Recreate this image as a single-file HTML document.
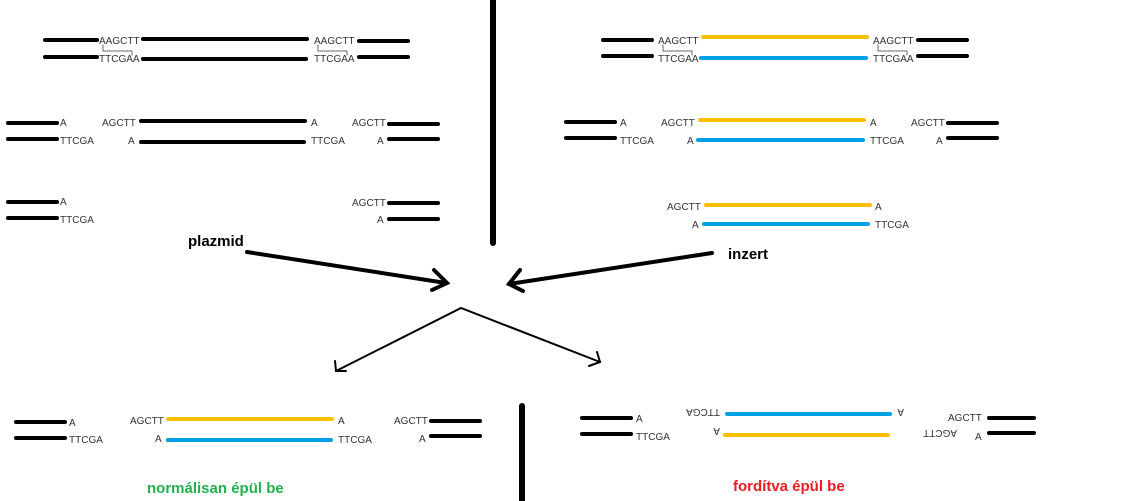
<!DOCTYPE html>
<html><head><meta charset="utf-8"><style>
html,body{margin:0;padding:0;background:#fff;}
svg{display:block;}
text{font-family:"Liberation Sans",Arial,sans-serif;font-size:10px;fill:#333;}
.b{font-weight:bold;font-size:15px;fill:#000;}
</style></head><body>
<svg width="1128" height="501" viewBox="0 0 1128 501">
<g stroke-linecap="round" fill="none">
<!-- top-left row1 -->
<g stroke="#000" stroke-width="4">
<line x1="45" y1="40" x2="97" y2="40"/><line x1="45" y1="57" x2="97" y2="57"/>
<line x1="143" y1="39" x2="307" y2="39"/><line x1="143" y1="59" x2="306" y2="59"/>
<line x1="359" y1="41" x2="408" y2="41"/><line x1="359" y1="57" x2="408" y2="57"/>
<!-- row2 -->
<line x1="8" y1="123" x2="57" y2="123"/><line x1="8" y1="139" x2="57" y2="139"/>
<line x1="141" y1="121" x2="305" y2="121"/><line x1="141" y1="142" x2="304" y2="142"/>
<line x1="389" y1="124" x2="438" y2="124"/><line x1="389" y1="139" x2="438" y2="139"/>
<!-- row3 -->
<line x1="8" y1="202" x2="57" y2="202"/><line x1="8" y1="218" x2="57" y2="218"/>
<line x1="389" y1="203" x2="438" y2="203"/><line x1="389" y1="219" x2="438" y2="219"/>
<!-- right row1 -->
<line x1="603" y1="40" x2="652" y2="40"/><line x1="603" y1="56" x2="652" y2="56"/>
<line x1="918" y1="40" x2="967" y2="40"/><line x1="918" y1="56" x2="967" y2="56"/>
<line x1="566" y1="122" x2="615" y2="122"/><line x1="566" y1="138" x2="615" y2="138"/>
<line x1="948" y1="123" x2="997" y2="123"/><line x1="948" y1="138" x2="997" y2="138"/>
<!-- bottom -->
<line x1="16" y1="422" x2="65" y2="422"/><line x1="16" y1="438" x2="65" y2="438"/>
<line x1="431" y1="421" x2="480" y2="421"/><line x1="431" y1="436" x2="480" y2="436"/>
<line x1="582" y1="418" x2="631" y2="418"/><line x1="582" y1="434" x2="631" y2="434"/>
<line x1="989" y1="418" x2="1034" y2="418"/><line x1="989" y1="433" x2="1034" y2="433"/>
</g>
<g stroke="#ffc000" stroke-width="4">
<line x1="703" y1="37" x2="867" y2="37"/><line x1="700" y1="120" x2="864" y2="120"/>
<line x1="706" y1="205" x2="870" y2="205"/><line x1="168" y1="419" x2="332" y2="419"/>
<line x1="725" y1="435" x2="888" y2="435"/>
</g>
<g stroke="#00a0e6" stroke-width="4">
<line x1="701" y1="58" x2="866" y2="58"/><line x1="698" y1="140" x2="863" y2="140"/>
<line x1="704" y1="224" x2="868" y2="224"/><line x1="168" y1="440" x2="331" y2="440"/>
<line x1="727" y1="414" x2="890" y2="414"/>
</g>
<!-- dotted brackets -->
<g stroke="#555" stroke-width="1" stroke-dasharray="1,1">
<path d="M103 45 V51 H132 V56"/><path d="M318 45 V51 H347 V56"/>
<path d="M663 45 V51 H692 V56"/><path d="M878 45 V51 H907 V56"/>
</g>
<!-- vertical bars -->
<g stroke="#000" stroke-width="6">
<line x1="493" y1="0" x2="493" y2="243"/>
<line x1="522" y1="406" x2="522" y2="501"/>
</g>
<!-- arrows -->
<g stroke="#000" stroke-width="4">
<line x1="247" y1="252" x2="446" y2="283"/>
<polyline points="434,270 447,283 432,290"/>
<line x1="712" y1="253" x2="509" y2="284"/>
<polyline points="520,270 509,284 523,291"/>
</g>
<g stroke="#000" stroke-width="2">
<polyline points="336,371 461,308 600,362"/>
<polyline points="335,361 336,371 346,371"/>
<polyline points="597,352 600,362 589,366"/>
</g>
</g>
<!-- texts -->
<text x="99" y="44">AAGCTT</text><text x="99" y="62">TTCGAA</text>
<text x="314" y="44">AAGCTT</text><text x="314" y="62">TTCGAA</text>
<text x="60" y="126">A</text><text x="102" y="126">AGCTT</text>
<text x="60" y="144">TTCGA</text><text x="128" y="144">A</text>
<text x="311" y="126">A</text><text x="311" y="144">TTCGA</text>
<text x="352" y="126">AGCTT</text><text x="377" y="144">A</text>
<text x="60" y="205">A</text><text x="60" y="223">TTCGA</text>
<text x="352" y="206">AGCTT</text><text x="377" y="223">A</text>

<text x="658" y="44">AAGCTT</text><text x="658" y="62">TTCGAA</text>
<text x="873" y="44">AAGCTT</text><text x="873" y="62">TTCGAA</text>
<text x="620" y="126">A</text><text x="661" y="126">AGCTT</text>
<text x="620" y="144">TTCGA</text><text x="687" y="144">A</text>
<text x="870" y="126">A</text><text x="870" y="144">TTCGA</text>
<text x="911" y="126">AGCTT</text><text x="936" y="144">A</text>
<text x="667" y="210">AGCTT</text><text x="875" y="210">A</text>
<text x="692" y="228">A</text><text x="875" y="228">TTCGA</text>

<text x="69" y="426">A</text><text x="69" y="443">TTCGA</text>
<text x="130" y="424">AGCTT</text><text x="155" y="442">A</text>
<text x="338" y="424">A</text><text x="338" y="443">TTCGA</text>
<text x="394" y="424">AGCTT</text><text x="419" y="442">A</text>

<text x="636" y="422">A</text><text x="636" y="440">TTCGA</text>
<text transform="translate(720,409) rotate(180)">TTCGA</text>
<text transform="translate(720,428) rotate(180)">A</text>
<text transform="translate(904,409) rotate(180)">A</text>
<text transform="translate(957,430) rotate(180)">AGCTT</text>
<text x="948" y="421">AGCTT</text><text x="975" y="440">A</text>

<text class="b" x="188" y="246">plazmid</text>
<text class="b" x="728" y="259">inzert</text>
<text class="b" x="147" y="493" style="fill:#22b14c">normálisan épül be</text>
<text class="b" x="733" y="491" style="fill:#ed1c24">fordítva épül be</text>
</svg>
</body></html>
